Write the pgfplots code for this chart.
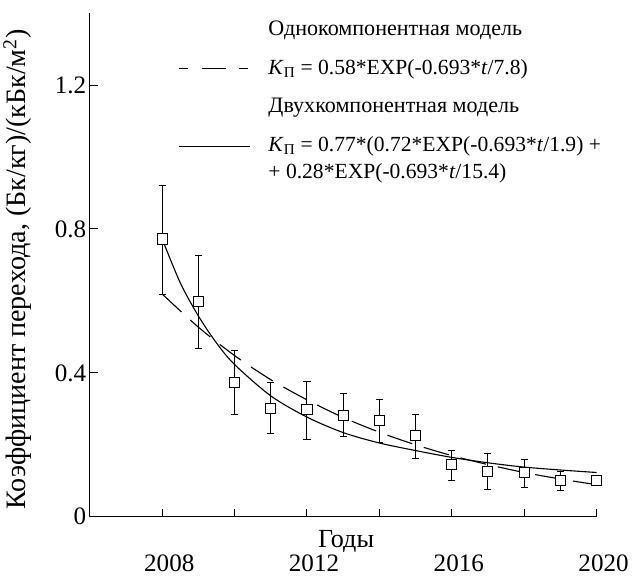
\documentclass[border=0pt]{standalone}
\usepackage{pgfplots}
\usepackage{pgfplotstable}
\pgfplotsset{compat=1.18}
\usepackage{fontspec}
\setmainfont{Liberation Serif}

\pgfplotstableread{
x y ep em
2008 0.772 0.148 0.153
2009 0.599 0.128 0.131
2010 0.374 0.088 0.091
2011 0.302 0.072 0.070
2012 0.297 0.080 0.081
2013 0.282 0.060 0.059
2014 0.267 0.058 0.060
2015 0.225 0.058 0.063
2016 0.144 0.039 0.042
2017 0.127 0.049 0.051
2018 0.123 0.037 0.043
2019 0.102 0.023 0.030
2020 0.102 0.014 0.016
}\measured

\pgfplotstableread{
x y
2008 0.619
2009 0.527
2010 0.448
2011 0.381
2012 0.325
2013 0.276
2014 0.235
2015 0.200
2016 0.170
2017 0.145
2018 0.123
2019 0.105
2020 0.089
}\onecomp

\pgfplotstableread{
x y
2008 0.772
2008.5 0.650
2009 0.558
2009.5 0.483
2010 0.423
2011 0.336
2012 0.277
2013 0.234
2014 0.205
2015 0.184
2016 0.165
2017 0.150
2018 0.138
2019 0.130
2020 0.123
}\twocomp

\begin{document}
\begin{tikzpicture}
\begin{axis}[
  width=503bp, height=500bp, scale only axis,
  xmin=2006, xmax=2020, ymin=0, ymax=1.4,
  axis lines*=left,
  axis line style={line width=1bp},
  clip=false,
  xtick={2008,2010,...,2020},
  xticklabels={2008,,2012,,2016,,2020},
  ytick={0,0.4,0.8,1.2},
  yticklabels={0,0.4,0.8,1.2},
  tick align=inside,
  major tick length=8bp,
  tick style={line width=1bp, black},
  tick label style={font=\fontsize{25}{25}\selectfont},
  xticklabel style={yshift=-34bp, xshift=7bp},
  ylabel={Коэффициент перехода, (Бк/кг)/(кБк/м\textsuperscript{2})},
  ylabel style={font=\fontsize{28}{28}\selectfont, at={(axis description cs:-0.143,0.491)}, anchor=center},
]
\addplot[black, line width=1.1bp, dash pattern=on 26bp off 12bp, smooth] table[x=x,y=y]{\onecomp};
\addplot[black, line width=1.1bp, smooth] table[x=x,y=y]{\twocomp};
\addplot[black, line width=1bp, only marks, mark=square*, mark size=5bp,
  mark options={fill=white, draw=black, line width=1bp},
  error bars/.cd, y dir=both, y explicit,
  error bar style={line width=1bp, black},
  error mark options={rotate=90, mark size=3.5bp, line width=1bp, black}]
  table[x=x, y=y, y error plus=ep, y error minus=em]{\measured};

\path (rel axis cs:0,1) -- ([yshift=13bp]rel axis cs:0,1);
\path (rel axis cs:0,0) -- ([yshift=-66bp]rel axis cs:0,0);
\node[font=\fontsize{26}{26}\selectfont] at (axis cs:2013.08,-0.07) {Годы};

\draw[black, line width=1.1bp, dash pattern=on 9bp off 14bp on 24bp off 13bp on 9bp off 30bp] (axis cs:2008.45,1.245) -- (axis cs:2010.43,1.245);
\draw[black, line width=1.1bp] (axis cs:2008.45,1.029) -- (axis cs:2010.43,1.029);
\begin{scope}[every node/.style={anchor=west, inner sep=0pt}]
\node[font=\fontsize{22}{22}\selectfont] at (axis cs:2010.93,1.351) {Однокомпонентная модель};
\node[font=\fontsize{21.5}{21.5}\selectfont] at (axis cs:2010.93,1.245) {\textit{K}\textsubscript{П} = 0.58*EXP(-0.693*\textit{t}/7.8)};
\node[font=\fontsize{22}{22}\selectfont] at (axis cs:2010.93,1.136) {Двухкомпонентная модель};
\node[font=\fontsize{21.5}{21.5}\selectfont] at (axis cs:2010.93,1.029) {\textit{K}\textsubscript{П} = 0.77*(0.72*EXP(-0.693*\textit{t}/1.9) +};
\node[font=\fontsize{21.5}{21.5}\selectfont] at (axis cs:2010.93,0.954) {+ 0.28*EXP(-0.693*\textit{t}/15.4)};
\end{scope}
\end{axis}
\end{tikzpicture}
\end{document}
